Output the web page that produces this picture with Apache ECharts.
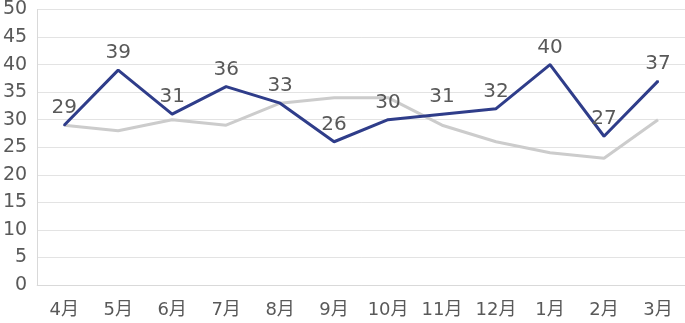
<!DOCTYPE html>
<html><head><meta charset="utf-8">
<script src="https://cdn.jsdelivr.net/npm/echarts@6/dist/echarts.min.js"></script>
<style>html,body{margin:0;padding:0;background:#fff}#c{width:685px;height:323px}</style>
</head><body><div id="c"></div>
<script>
const categories = ['4月','5月','6月','7月','8月','9月','10月','11月','12月','1月','2月','3月'];
const seriesMain = [29,39,31,36,33,26,30,31,32,40,27,37];
const seriesPrev = [29,28,30,29,33,34,34,29,26,24,23,30];
const yTicks = {min:0, max:50, interval:5};
const font = '"DejaVu Sans","Noto Sans CJK JP",sans-serif';
const chart = echarts.init(document.getElementById('c'));
chart.setOption({
  animation:false,
  grid:{left:36,right:0,top:8,bottom:38},
  xAxis:{type:'category',data:categories,boundaryGap:true,
    axisLine:{lineStyle:{color:'#d9d9d9',width:1}},axisTick:{show:false},
    axisLabel:{color:'#595959',fontSize:18,fontFamily:font,margin:16}},
  yAxis:{type:'value',min:yTicks.min,max:yTicks.max,interval:yTicks.interval,
    axisLine:{show:true,lineStyle:{color:'#d9d9d9'}},axisTick:{show:false},
    splitLine:{lineStyle:{color:'#e3e3e3',width:1}},
    axisLabel:{color:'#595959',fontSize:19,fontFamily:font,margin:10}},
  series:[
    {type:'line',data:seriesPrev,symbol:'none',lineStyle:{color:'#cccccc',width:3},z:1},
    {type:'line',data:seriesMain,symbol:'circle',symbolSize:2,showSymbol:true,
      itemStyle:{color:'#2f3d8a'},lineStyle:{color:'#2f3d8a',width:3},z:2,
      label:{show:true,position:'top',distance:6,color:'#595959',fontSize:20,fontFamily:font}}
  ]
});
</script></body></html>
